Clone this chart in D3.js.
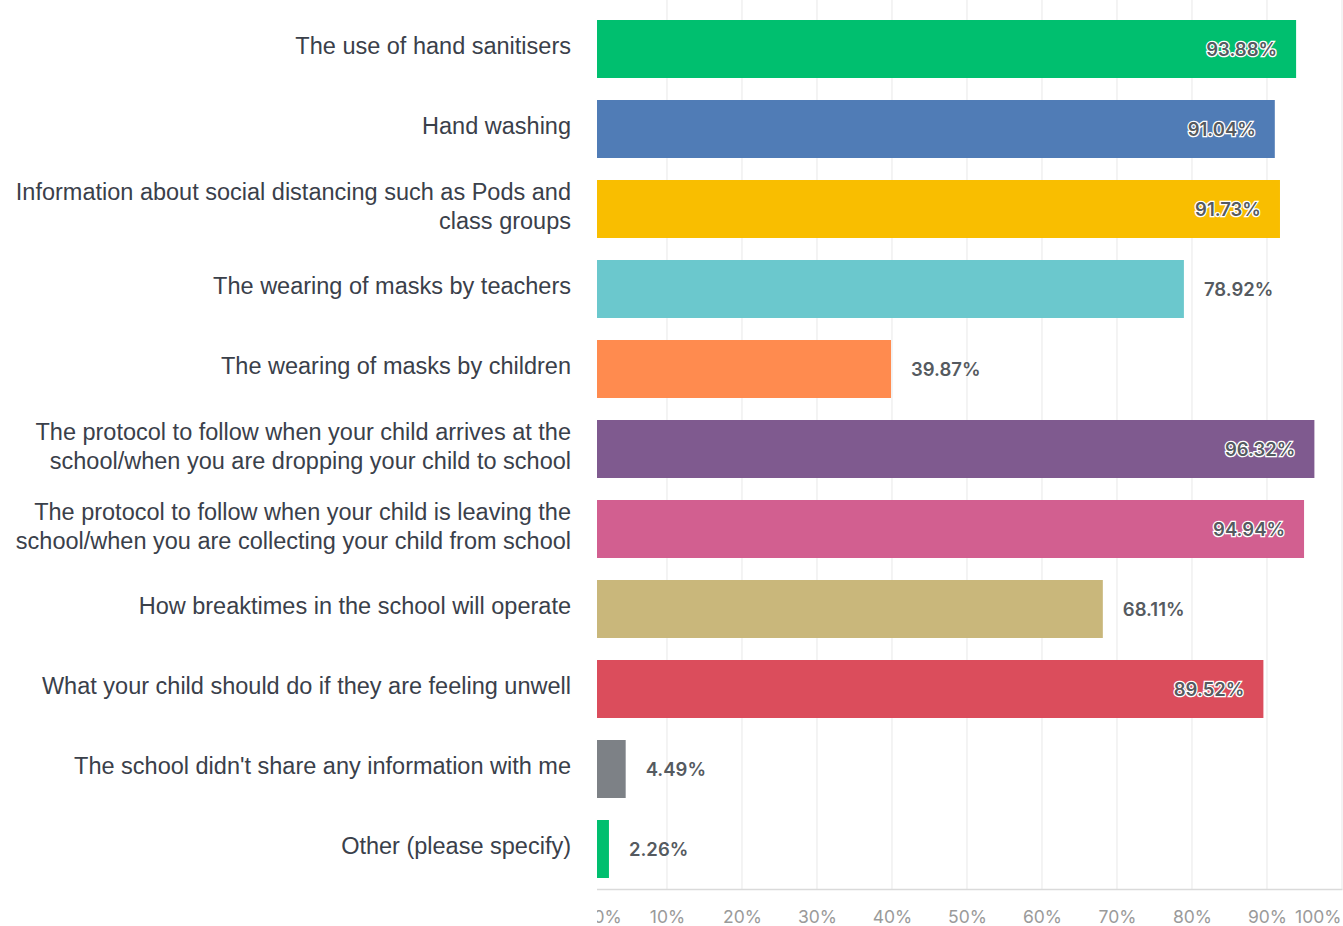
<!DOCTYPE html>
<html>
<head>
<meta charset="utf-8">
<script src="https://cdn.jsdelivr.net/npm/d3@7"></script>
<style>
  body { margin: 0; background: #fff; }
  svg { display: block; }
</style>
</head>
<body>
<svg width="1343" height="926"></svg>
<script>
// answer choices (each entry is the lines of the label)
var categories = [
    ["The use of hand sanitisers"],
    ["Hand washing"],
    ["Information about social distancing such as Pods and", "class groups"],
    ["The wearing of masks by teachers"],
    ["The wearing of masks by children"],
    ["The protocol to follow when your child arrives at the", "school/when you are dropping your child to school"],
    ["The protocol to follow when your child is leaving the", "school/when you are collecting your child from school"],
    ["How breaktimes in the school will operate"],
    ["What your child should do if they are feeling unwell"],
    ["The school didn't share any information with me"],
    ["Other (please specify)"]
];
var values = [93.88, 91.04, 91.73, 78.92, 39.87, 96.32, 94.94, 68.11, 89.52, 4.49, 2.26];
var colours = ["#00bf6f", "#507cb6", "#f9be00", "#6bc8cd", "#ff8b4f", "#7f5a8f",
               "#d25f90", "#c9b77b", "#db4d5c", "#7d8186", "#00bf6f"];
var ticks = [0, 10, 20, 30, 40, 50, 60, 70, 80, 90, 100];

svg = d3.select("svg");
var x0 = 592, x1 = 1342, axisY = 889, clipX = 597;

xScale = d3.scaleLinear() // horizontal scale
    .domain([0, 100])
    .range([x0, x1]);

yScale = d3.scaleBand() // one row per answer
    .domain(d3.range(categories.length))
    .range([9, axisY])
    .paddingInner(0.275)
    .paddingOuter(0.1375);

// clip the plot to the left edge like the cropped original
svg.append("clipPath").attr("id", "plotclip")
    .append("rect")
    .attr("x", clipX).attr("y", 0)
    .attr("width", 1343 - clipX).attr("height", 926);

plot = svg.append("g").attr("clip-path", "url(#plotclip)");

// vertical gridlines
plot.append("g")
    .selectAll("line")
    .data(ticks.slice(1))
    .enter()
    .append("line")
    .attr("x1", function(d) {return xScale(d);})
    .attr("x2", function(d) {return xScale(d);})
    .attr("y1", 0)
    .attr("y2", axisY)
    .attr("stroke", "#ececec")
    .attr("stroke-width", 1.2);

// bottom axis
var xAxis = d3.axisBottom(xScale)
    .tickValues(ticks)
    .tickSize(0)
    .tickPadding(22)
    .tickFormat(function(d) {return d + "%";});

var axisG = plot.append("g")
    .attr("transform", "translate(0," + axisY + ")")
    .call(xAxis);
axisG.select(".domain").attr("stroke", "#dadada").attr("stroke-width", 1.5);
axisG.selectAll("text")
    .attr("font-family", "Inter, Roboto, sans-serif")
    .attr("font-size", 17.5)
    .attr("fill", "#9a9a9a");
// first and last labels are pushed inside the window
axisG.selectAll(".tick").filter(function(d) {return d == 0;})
    .select("text").attr("text-anchor", "start").attr("dx", 1);
axisG.selectAll(".tick").filter(function(d) {return d == 100;})
    .select("text").attr("text-anchor", "end").attr("dx", -1);

// bars
plot.selectAll("rect.bar")
    .data(values)
    .enter()
    .append("rect")
    .attr("class", "bar")
    .attr("x", xScale(0))
    .attr("y", function(d, i) {return yScale(i);})
    .attr("width", function(d) {return xScale(d) - xScale(0);})
    .attr("height", yScale.bandwidth())
    .attr("fill", function(d, i) {return colours[i];});

// value labels: inside the bar for long bars, outside for the rest
var inside = function(d) {return d > 85;};
plot.selectAll("text.val")
    .data(values)
    .enter()
    .append("text")
    .attr("class", "val")
    .attr("x", function(d) {return inside(d) ? xScale(d) - 19 : xScale(d) + 20;})
    .attr("y", function(d, i) {return yScale(i) + yScale.bandwidth() / 2;})
    .attr("dy", "0.36em")
    .attr("text-anchor", function(d) {return inside(d) ? "end" : "start";})
    .attr("font-family", "Inter, Roboto, sans-serif")
    .attr("font-weight", 600)
    .attr("font-size", 18.5)
    .attr("fill", "#555a60")
    .attr("stroke", function(d) {return inside(d) ? "#ffffff" : "none";})
    .attr("stroke-width", 2.5)
    .attr("paint-order", "stroke")
    .text(function(d) {return d.toFixed(2) + "%";});

// category labels on the left
var lab = svg.append("g")
    .selectAll("text")
    .data(categories)
    .enter()
    .append("text")
    .attr("text-anchor", "end")
    .attr("font-family", "'Liberation Sans', Arial, sans-serif")
    .attr("font-size", 23.5)
    .attr("fill", "#3a404a")
    .attr("y", function(d, i) {return yScale(i) + yScale.bandwidth() / 2 - 3;});

lab.selectAll("tspan")
    .data(function(d) {return d;})
    .enter()
    .append("tspan")
    .attr("x", 571)
    .attr("dy", function(d, j, nodes) {
        var n = nodes.length;
        return j == 0 ? (0.35 - (n - 1) * 0.62) + "em" : "1.24em";
    })
    .text(function(d) {return d;});
</script>
</body>
</html>
